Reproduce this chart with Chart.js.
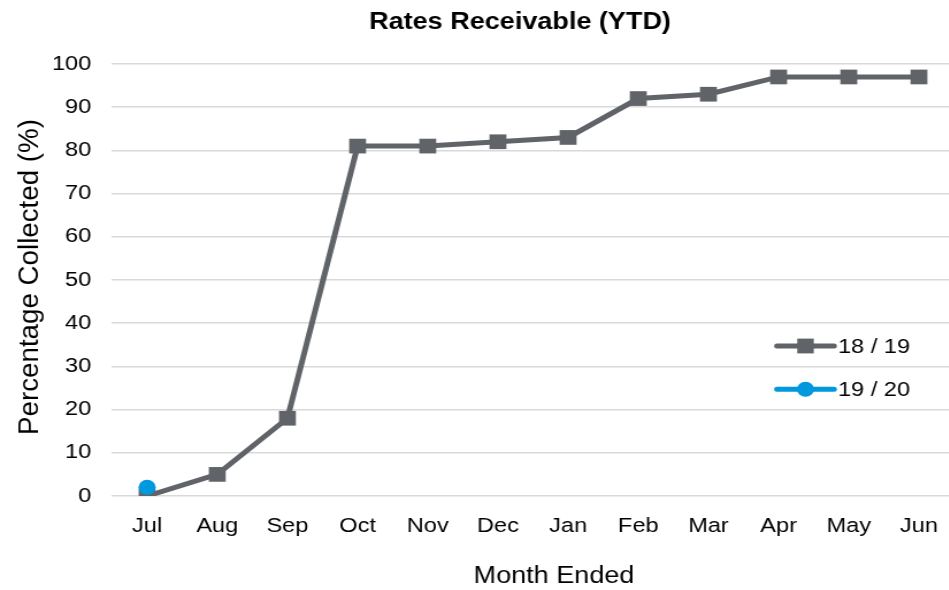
<!DOCTYPE html>
<html>
<head>
<meta charset="utf-8">
<title>Rates Receivable (YTD)</title>
<style>
  html, body { margin: 0; padding: 0; background: #fff; width: 949px; height: 590px; overflow: hidden; }
  /* the artwork uses a slightly wide letterform, so the canvas is widened as a whole */
  #wrap { width: 840px; height: 590px; transform: scaleX(1.15); transform-origin: 0 0; }
</style>
<script src="https://cdn.jsdelivr.net/npm/chart.js@4/dist/chart.umd.min.js"></script>
</head>
<body>
<div id="wrap"><canvas id="chart" width="840" height="590"></canvas></div>
<script>
// ---- data ----
const months = ['Jul', 'Aug', 'Sep', 'Oct', 'Nov', 'Dec', 'Jan', 'Feb', 'Mar', 'Apr', 'May', 'Jun'];
const collected1819 = [0, 5, 18, 81, 81, 82, 83, 92, 93, 97, 97, 97];
const collected1920 = [2, null, null, null, null, null, null, null, null, null, null, null];
const seriesNames = ['18 / 19', '19 / 20'];
const yMin = 0, yMax = 100, yStep = 10;
const chartTitle = 'Rates Receivable (YTD)';
const xTitle = 'Month Ended';
const yTitle = 'Percentage Collected (%)';

// ---- styling ----
const SX = 1.15;                      // horizontal widening applied by CSS
const FONT = '"Liberation Sans", Arial, Helvetica, sans-serif';
const GREY = '#606368';
const BLUE = '#0099dd';

// titles and legend drawn on top of the plot
const annotate = {
  id: 'annotate',
  afterDraw(chart) {
    const ctx = chart.ctx;
    ctx.save();
    ctx.fillStyle = '#000';
    ctx.textAlign = 'center';
    ctx.textBaseline = 'middle';

    ctx.font = 'bold 23.5px ' + FONT;
    ctx.fillText(chartTitle, 520 / SX, 23);

    ctx.font = '23.5px ' + FONT;
    ctx.fillText(xTitle, 554 / SX, 577);

    ctx.save();
    ctx.translate(30 / SX, 277);
    ctx.rotate(-Math.PI / 2);
    ctx.scale(1.18, 1);
    ctx.fillText(yTitle, 0, 0);
    ctx.restore();

    // legend inside the plot, right side
    const x0 = 777 / SX, x1 = 834 / SX, xm = 805.5 / SX, xt = 838 / SX;
    chart.data.datasets.slice().sort((a, b) => a.legendIndex - b.legendIndex).forEach((ds, i) => {
      const y = 346 + i * 43.3;
      ctx.strokeStyle = ds.borderColor;
      ctx.fillStyle = ds.borderColor;
      ctx.lineWidth = 5;
      ctx.lineCap = 'round';
      ctx.beginPath();
      ctx.moveTo(x0, y);
      ctx.lineTo(x1, y);
      ctx.stroke();
      if (ds.pointStyle === 'rect') {
        ctx.fillRect(xm - 7.2, y - 7.4, 14.4, 14.8);
      } else {
        ctx.beginPath();
        ctx.arc(xm, y, 7.5, 0, Math.PI * 2);
        ctx.fill();
      }
      ctx.fillStyle = '#000';
      ctx.textAlign = 'left';
      ctx.font = '20.5px ' + FONT;
      ctx.fillText(ds.label, xt, y + 1.5);
    });
    ctx.restore();
  }
};

new Chart(document.getElementById('chart'), {
  type: 'line',
  data: {
    labels: months,
    datasets: [
      {
        label: seriesNames[1],
        legendIndex: 1,
        data: collected1920,
        borderColor: BLUE,
        backgroundColor: BLUE,
        borderWidth: 5,
        pointStyle: 'circle',
        pointRadius: 7.5,
        pointBorderWidth: 0,
        pointBackgroundColor: BLUE,
        order: 0
      },
      {
        label: seriesNames[0],
        legendIndex: 0,
        data: collected1819,
        borderColor: GREY,
        backgroundColor: GREY,
        borderWidth: 5,
        pointStyle: 'rect',
        pointRadius: 10.4,
        pointBorderWidth: 0,
        pointBackgroundColor: GREY,
        tension: 0,
        order: 1
      }
    ]
  },
  options: {
    responsive: false,
    devicePixelRatio: 1,
    animation: false,
    layout: { padding: { top: 64, right: 7, bottom: 0, left: 0 } },
    plugins: {
      legend: { display: false },
      title: { display: false },
      tooltip: { enabled: false }
    },
    scales: {
      x: {
        offset: true,
        grid: { display: false, drawTicks: false },
        border: { display: false },
        ticks: { color: '#000', font: { family: FONT, size: 20.5 }, padding: 18, maxRotation: 0 },
        afterFit(scale) { scale.height = 94; }
      },
      y: {
        min: yMin,
        max: yMax,
        grid: { color: '#d9d9d9', lineWidth: 1.5, drawTicks: false, tickLength: 0 },
        border: { display: false },
        ticks: { stepSize: yStep, color: '#000', font: { family: FONT, size: 20.5 }, padding: 18 },
        afterFit(scale) { scale.width = 112 / SX; }
      }
    }
  },
  plugins: [annotate]
});
</script>
</body>
</html>
